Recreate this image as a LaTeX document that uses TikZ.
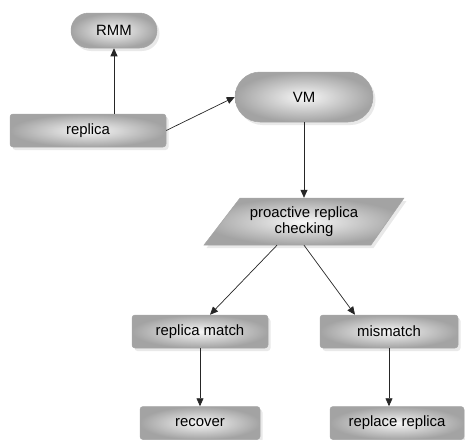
\documentclass[tikz,border=0pt]{standalone}
\usepackage{fontspec}
\setmainfont{Liberation Sans}
\usetikzlibrary{shadows,arrows.meta,calc}
\begin{document}
\begin{tikzpicture}[x=1pt,y=-1pt,
  shapestyle/.style={draw=gray!70, line width=0.5pt, inner color=gray!6, outer color=gray!72,
    drop shadow={shadow xshift=2.5pt, shadow yshift=-3pt, fill=gray!50, opacity=0.35}},
  boxnode/.style={shapestyle, rectangle, rounded corners=3pt, minimum height=33pt, inner sep=0pt,
    font=\fontsize{14.9}{16.5}\selectfont},
  pillnode/.style={shapestyle, rectangle, inner sep=0pt, font=\fontsize{14.9}{16.5}\selectfont},
  textnode/.style={inner sep=0pt, align=center, font=\fontsize{14.9}{16.5}\selectfont},
  conn/.style={draw=black!85, line width=0.7pt, -{Triangle[length=8pt,width=7pt]}}]
\useasboundingbox (0,0) rectangle (465,439);

\node[pillnode, minimum width=86pt, minimum height=35pt, rounded corners=17.5pt] (RMM) at (114,30.5) {RMM};
\node[boxnode, minimum width=156pt] (replica) at (88,130.5) {replica};
\node[pillnode, minimum width=138pt, minimum height=50pt, rounded corners=25pt] (VM) at (304,97) {VM};

\coordinate (pcc) at (304,221.5);
\path[shapestyle] ($(pcc)+(-64,-23.5)$) -- ($(pcc)+(100,-23.5)$) -- ($(pcc)+(67,23.5)$) -- ($(pcc)+(-100,23.5)$) -- cycle;
\node[textnode, minimum width=166pt, minimum height=47pt] (pc) at (pcc) {proactive replica\\checking};

\node[boxnode, minimum width=136pt] (rm) at (200,331.5) {replica match};
\node[boxnode, minimum width=138pt] (mm) at (389,331.5) {mismatch};
\node[boxnode, minimum width=120pt] (rec) at (200,423) {recover};
\node[boxnode, minimum width=134pt] (rr) at (397,423) {replace replica};

\draw[conn] (RMM.south |- replica.north) -- (RMM.south);
\draw[conn] (replica.east) -- (VM.west);
\draw[conn] (VM.south) -- (pc.north);
\draw[conn] ($(pc.south)+(-27,0)$) -- ($(rm.north)+(10,0)$);
\draw[conn] (pc.south) -- ($(mm.north)+(-34,0)$);
\draw[conn] (rm.south) -- (rec.north);
\draw[conn] (mm.south) -- (mm.south |- rr.north);
\end{tikzpicture}
\end{document}
